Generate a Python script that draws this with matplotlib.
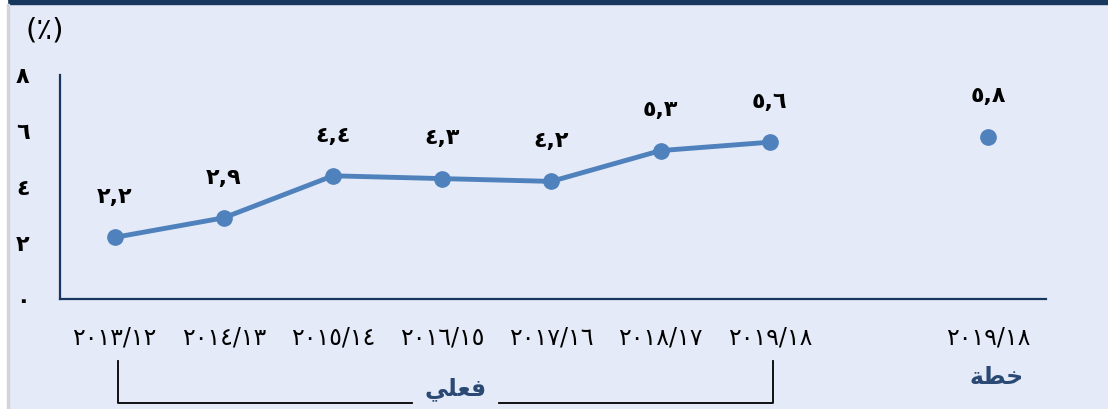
import matplotlib
matplotlib.use("Agg")
import matplotlib.pyplot as plt
from matplotlib.patches import Rectangle
from matplotlib.lines import Line2D
import matplotlib.transforms as mtransforms

# data
years_actual = ["٢٠١٣/١٢", "٢٠١٤/١٣", "٢٠١٥/١٤", "٢٠١٦/١٥",
                "٢٠١٧/١٦", "٢٠١٨/١٧", "٢٠١٩/١٨"]
values_actual = [2.2, 2.9, 4.4, 4.3, 4.2, 5.3, 5.6]
labels_actual = ["٢,٢", "٢,٩", "٤,٤", "٤,٣", "٤,٢", "٥,٣", "٥,٦"]
year_plan = "٢٠١٩/١٨"
value_plan = 5.8
label_plan = "٥,٨"
yticks = [0, 2, 4, 6, 8]
ytick_labels = ["٠", "٢", "٤", "٦", "٨"]
# Arabic words in presentation forms, visual order
word_actual = "\uFEF2\uFEE0\uFECC\uFED3"   # فعلي
word_plan = "\uFE94\uFEC4\uFEA7"           # خطة

BG = "#E4EAF7"
NAVY = "#17375E"
LINE = "#4F81BD"
WORD = "#2B4A73"

W, H = 1108, 409
fig = plt.figure(figsize=(W / 100, H / 100), dpi=100, facecolor=BG)

# frame decorations
fig.patches.append(Rectangle((0, 1 - 4 / H), 1, 4 / H, transform=fig.transFigure,
                             color=NAVY, zorder=0))
fig.patches.append(Rectangle((0, 0), 7 / W, 1, transform=fig.transFigure,
                             color="white", zorder=0))
fig.patches.append(Rectangle((7 / W, 0), 2 / W, 1 - 4 / H, transform=fig.transFigure,
                             color="#D4D4D4", zorder=0))

left, right, top, bottom = 60, 1046, 75, 299
ax = fig.add_axes([left / W, (H - bottom) / H, (right - left) / W, (bottom - top) / H])
ax.set_facecolor(BG)

x_actual = list(range(len(values_actual)))
x_plan = len(values_actual) + 1

ax.plot(x_actual, values_actual, color=LINE, lw=3.5, marker="o", ms=11,
        solid_capstyle="round", clip_on=False)
ax.plot([x_plan], [value_plan], color=LINE, marker="o", ms=11, ls="none",
        clip_on=False)

for x, v, s in zip(x_actual, values_actual, labels_actual):
    ax.annotate(s, (x, v), xytext=(0, 29), textcoords="offset points",
                ha="center", va="center", fontsize=16, fontweight="bold")
ax.annotate(label_plan, (x_plan, value_plan), xytext=(0, 29),
            textcoords="offset points", ha="center", va="center",
            fontsize=16, fontweight="bold")

ax.set_xlim(-0.5, 8.53)
ax.set_ylim(0, 8)
ax.set_yticks(yticks)
ax.set_yticklabels(ytick_labels, fontsize=16, fontweight="bold")
ax.set_xticks(x_actual + [x_plan])
ax.set_xticklabels(years_actual + [year_plan], fontsize=17)
ax.tick_params(axis="both", length=0)
ax.tick_params(axis="y", pad=22)
ax.tick_params(axis="x", pad=19)
for sp in ["top", "right"]:
    ax.spines[sp].set_visible(False)
for sp in ["left", "bottom"]:
    ax.spines[sp].set_color(NAVY)
    ax.spines[sp].set_linewidth(1.6)

fig.text(45 / W, 1 - 31 / H, "(٪)", ha="center", va="center", fontsize=21)

# bracket under the actual years
trans = mtransforms.blended_transform_factory(ax.transData, fig.transFigure)
y_top = 1 - 361 / H
y_bot = 1 - 403 / H
xl, xr = x_actual[0] + 0.03, x_actual[-1] + 0.03
x_mid = 3.12
gap = 0.4
for xs, ys in [([xl, xl, x_mid - gap], [y_top, y_bot, y_bot]),
               ([x_mid + gap, xr, xr], [y_bot, y_bot, y_top])]:
    fig.add_artist(Line2D(xs, ys, transform=trans, color="black", lw=1.3))
fig.text(x_mid, 1 - 389 / H, word_actual, transform=trans, ha="center",
         va="center", fontsize=17, fontweight="bold", color=WORD)
fig.text(x_plan + 0.08, 1 - 377 / H, word_plan, transform=trans, ha="center",
         va="center", fontsize=17, fontweight="bold", color=WORD)

fig.savefig("out.png", dpi=100, facecolor=BG)
